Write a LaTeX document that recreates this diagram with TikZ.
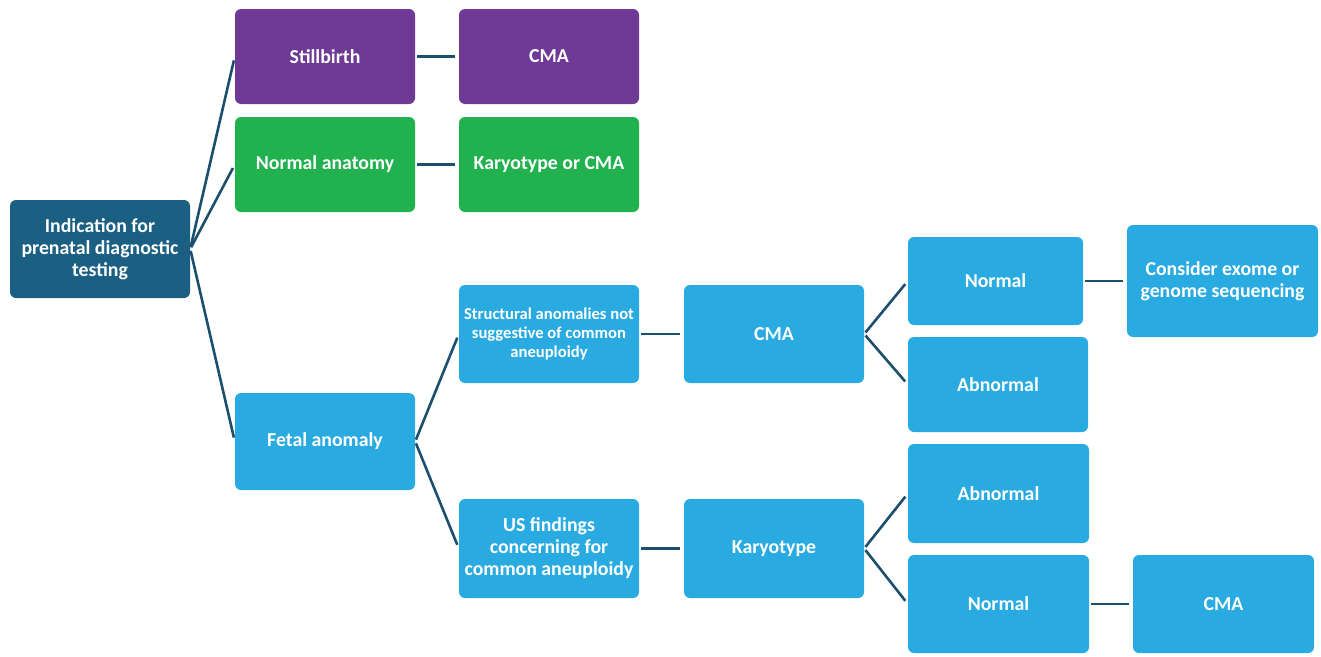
\documentclass[tikz,border=0pt]{standalone}
\usepackage{fontspec}
\setmainfont{Carlito}
\begin{document}
\begin{tikzpicture}[x=1pt,y=-1pt,
  box/.style={rounded corners=6pt, inner sep=2pt, align=center, text=white, font=\bfseries\fontsize{19.8}{22}\selectfont},
  small/.style={font=\bfseries\fontsize{16.6}{19}\selectfont},
  conn/.style={draw=linec, line width=2.6pt, shorten <=2pt, shorten >=4pt}]
\definecolor{rootc}{HTML}{1B6083}
\definecolor{purp}{HTML}{6F3996}
\definecolor{grn}{HTML}{21B24F}
\definecolor{lblue}{HTML}{29ABE2}
\definecolor{linec}{HTML}{1B4F6B}
\useasboundingbox (0,0) rectangle (1321,656);
\newcommand{\bx}[8][]{% opts, name, x1,y1,x2,y2, color, text
  \node[box, #1, fill=#7, minimum width=#5-#3, minimum height=#6-#4] (#2) at ({(#3+#5)/2},{(#4+#6)/2}) {#8};}
\bx{root}{10}{200}{190}{298}{rootc}{Indication for\\prenatal diagnostic\\testing}
\bx{still}{235}{9}{415}{104}{purp}{Stillbirth}
\bx{cmaA}{459}{9}{639}{104}{purp}{CMA}
\bx{normA}{235}{117}{415}{212}{grn}{Normal anatomy}
\bx{kcma}{459}{117}{639}{212}{grn}{Karyotype or CMA}
\bx{fetal}{235}{393}{415}{490}{lblue}{Fetal anomaly}
\bx[small]{struct}{459}{285}{639}{383}{lblue}{Structural anomalies not\\suggestive of common\\aneuploidy}
\bx{cmaB}{684}{285}{864}{383}{lblue}{CMA}
\bx{normB}{908}{237}{1083}{325}{lblue}{Normal}
\bx{consider}{1127}{225}{1318}{337}{lblue}{Consider exome or\\genome sequencing}
\bx{abnB}{908}{337}{1088}{432}{lblue}{Abnormal}
\bx{usf}{459}{499}{639}{598}{lblue}{US findings\\concerning for\\common aneuploidy}
\bx{kary}{684}{499}{864}{598}{lblue}{Karyotype}
\bx{abnC}{908}{444}{1089}{543}{lblue}{Abnormal}
\bx{normC}{908}{555}{1089}{653}{lblue}{Normal}
\bx{cmaC}{1133}{555}{1314}{653}{lblue}{CMA}
\draw[conn] (root.east) -- (still.west);
\draw[conn] (root.east) -- (normA.west);
\draw[conn] (root.east) -- (fetal.west);
\draw[conn] (still.east) -- (cmaA.west);
\draw[conn] (normA.east) -- (kcma.west);
\draw[conn] (fetal.east) -- (struct.west);
\draw[conn] (fetal.east) -- (usf.west);
\draw[conn] (struct.east) -- (cmaB.west);
\draw[conn] (usf.east) -- (kary.west);
\draw[conn] (cmaB.east) -- (normB.west);
\draw[conn] (cmaB.east) -- (abnB.west);
\draw[conn] (kary.east) -- (abnC.west);
\draw[conn] (kary.east) -- (normC.west);
\draw[conn] (normB.east) -- (consider.west);
\draw[conn] (normC.east) -- (cmaC.west);
\end{tikzpicture}
\end{document}
